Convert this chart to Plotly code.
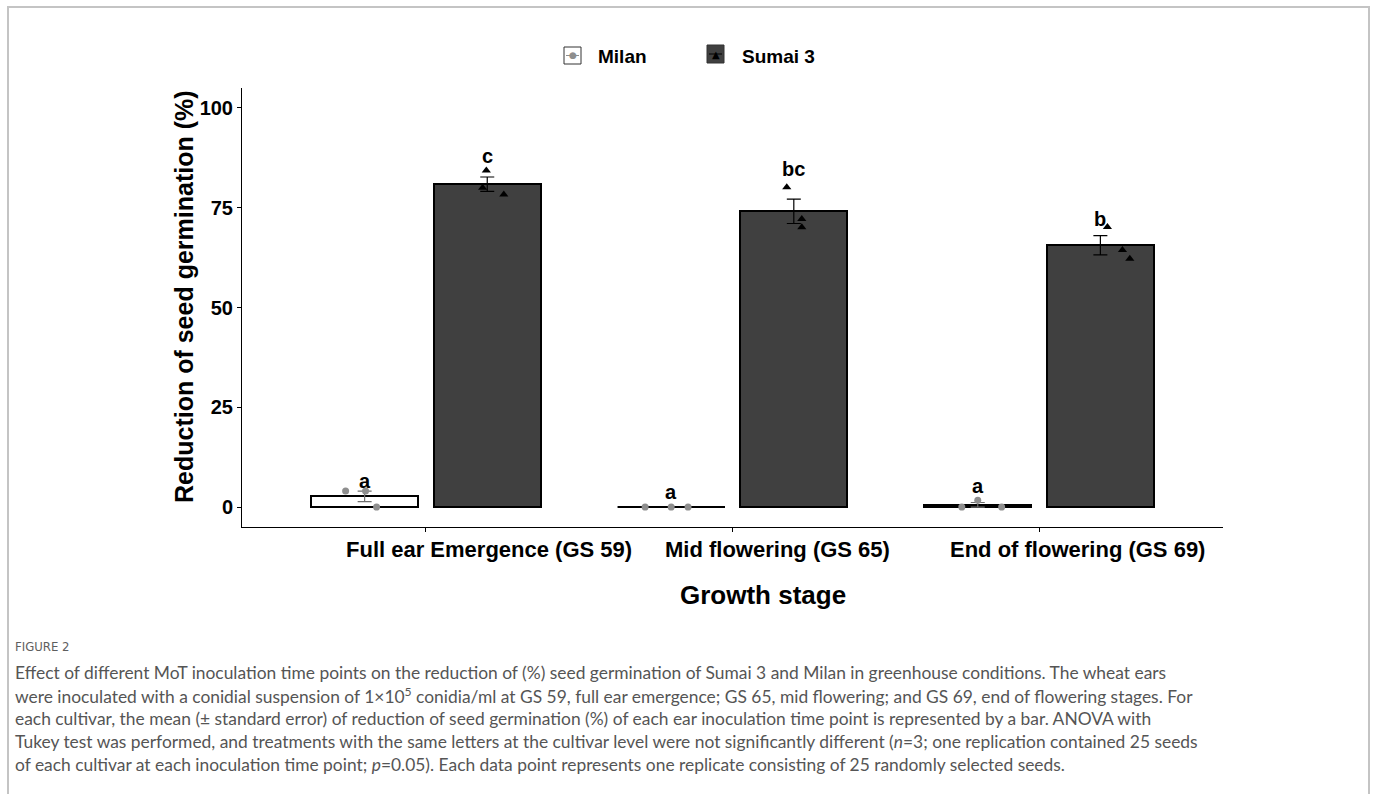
import plotly.graph_objects as go

# ---- data -------------------------------------------------------------
stages = ["Full ear Emergence (GS 59)", "Mid flowering (GS 65)", "End of flowering (GS 69)"]
cultivars = ["Milan", "Sumai 3"]

# mean reduction of seed germination (%) and standard error
milan_mean = [2.67, 0.0, 0.57]
milan_se = [1.33, 0.0, 0.57]
sumai_mean = [80.9, 74.1, 65.6]
sumai_se = [1.8, 3.05, 2.4]

# individual replicates (25 seeds each)
milan_reps = [[4.0, 4.0, 0.0], [0.0, 0.0, 0.0], [1.7, 0.0, 0.0]]
sumai_reps = [[84.3, 80.0, 78.3], [80.1, 72.2, 70.1], [70.2, 64.4, 62.2]]

# Tukey grouping letters
milan_letters = ["a", "a", "a"]
sumai_letters = ["c", "bc", "b"]

# ---- drawing parameters -------------------------------------------------
DODGE = 0.2
BAR_W = 0.35
milan_jitter = [[-0.062, 0.003, 0.039], [-0.085, 0.055, 0.0], [0.0, -0.052, 0.078]]
sumai_jitter = [[-0.003, -0.015, 0.054], [-0.023, 0.026, 0.026], [0.023, 0.072, 0.096]]
milan_letter_y = [6.5, 3.8, 5.3]
sumai_letter_y = [88.0, 84.7, 72.2]
stage_label_shift = [63, 45, 38]   # horizontal nudge of category labels (px)

W, H = 1377, 794
PL, PR, PT, PB = 242, 1223, 88, 527   # plot area in pixels


def px_x(px):
    return (px - PL) / (PR - PL)


def px_y(py):
    return (PB - py) / (PB - PT)


FONT = "Liberation Sans, Arial, sans-serif"
CAP_FONT = "Lato, Open Sans, sans-serif"

fig = go.Figure()

groups = [
    ("Milan", -DODGE, milan_mean, milan_se, milan_reps, milan_jitter, milan_letters, milan_letter_y,
     "white", "#6e6e6e", dict(symbol="circle", size=7, color="#8e8e8e")),
    ("Sumai 3", DODGE, sumai_mean, sumai_se, sumai_reps, sumai_jitter, sumai_letters, sumai_letter_y,
     "#404040", "black", dict(symbol="triangle-up", size=8, color="black")),
]

for name, off, mean, se, reps, jit, letters, ly, fill, ecol, mk in groups:
    xs = [i + off for i in range(len(stages))]
    fig.add_trace(go.Bar(
        x=xs, y=mean, width=BAR_W, name=name,
        marker=dict(color=fill, line=dict(color="black", width=2)),
        error_y=dict(type="data", array=se, color=ecol, thickness=1.2, width=7),
        showlegend=False,
    ))
    # zero-height bars still show their outline along the baseline
    for x, m in zip(xs, mean):
        if m == 0:
            fig.add_trace(go.Scatter(
                x=[x - BAR_W / 2, x + BAR_W / 2], y=[m, m], mode="lines",
                line=dict(color="black", width=2), showlegend=False, hoverinfo="skip"))
    px_, py_ = [], []
    for i, (rr, jj) in enumerate(zip(reps, jit)):
        for r, j in zip(rr, jj):
            px_.append(i + off + j)
            py_.append(r)
    fig.add_trace(go.Scatter(x=px_, y=py_, mode="markers", marker=mk, showlegend=False))
    for x, t, y in zip(xs, letters, ly):
        fig.add_annotation(x=x, y=y, text=t, showarrow=False, xanchor="center", yanchor="middle",
                           font=dict(family=FONT, size=20, color="black", weight="bold"))

# category labels below the axis
for i, (lab, sh) in enumerate(zip(stages, stage_label_shift)):
    fig.add_annotation(x=i, y=px_y(549), yref="paper", text=lab, showarrow=False,
                       xanchor="center", yanchor="middle", xshift=sh,
                       font=dict(family=FONT, size=22, color="black", weight="bold"))

# axis titles
fig.add_annotation(xref="paper", yref="paper", x=px_x(763), y=px_y(595), text="Growth stage",
                   showarrow=False, xanchor="center", yanchor="middle",
                   font=dict(family=FONT, size=26, color="black", weight="bold"))
fig.add_annotation(xref="paper", yref="paper", x=px_x(184), y=px_y(297),
                   text="Reduction of seed germination (%)", textangle=-90,
                   showarrow=False, xanchor="center", yanchor="middle",
                   font=dict(family=FONT, size=25, color="black", weight="bold"))

# ---- legend (drawn by hand: box + glyph + label) ----------------------------
legend_items = [
    (564, 581, 47, 64, "white", "#8e8e8e", "●", 9, 596, "Milan"),
    (707, 724, 45, 63, "#404040", "black", "▲", 10, 740, "Sumai 3"),
]
for x0, x1, y0, y1, fill, gcol, glyph, gsize, tx, label in legend_items:
    fig.add_shape(type="rect", xref="paper", yref="paper",
                  x0=px_x(x0), x1=px_x(x1), y0=px_y(y1), y1=px_y(y0),
                  fillcolor=fill, line=dict(color="#333333", width=1))
    fig.add_shape(type="line", xref="paper", yref="paper",
                  x0=px_x(x0 + 2), x1=px_x(x1 - 2), y0=px_y((y0 + y1) / 2), y1=px_y((y0 + y1) / 2),
                  line=dict(color=gcol, width=1))
    fig.add_annotation(xref="paper", yref="paper", x=px_x((x0 + x1) / 2), y=px_y((y0 + y1) / 2),
                       text=glyph, showarrow=False, xanchor="center", yanchor="middle",
                       font=dict(family="DejaVu Sans", size=gsize, color=gcol))
    fig.add_annotation(xref="paper", yref="paper", x=px_x(tx), y=px_y(56),
                       text=label, showarrow=False, xanchor="left", yanchor="middle",
                       font=dict(family=FONT, size=19, color="black", weight="bold"))

# ---- caption -------------------------------------------------------------
caption_lines = [
    "Effect of different MoT inoculation time points on the reduction of (%) seed germination of Sumai 3 and Milan in greenhouse conditions. The wheat ears",
    "were inoculated with a conidial suspension of 1×10<sup>5</sup> conidia/ml at GS 59, full ear emergence; GS 65, mid flowering; and GS 69, end of flowering stages. For",
    "each cultivar, the mean (± standard error) of reduction of seed germination (%) of each ear inoculation time point is represented by a bar. ANOVA with",
    "Tukey test was performed, and treatments with the same letters at the cultivar level were not significantly different (<i>n</i>=3; one replication contained 25 seeds",
    "of each cultivar at each inoculation time point; <i>p</i>=0.05). Each data point represents one replicate consisting of 25 randomly selected seeds.",
]
fig.add_annotation(xref="paper", yref="paper", x=px_x(13), y=px_y(646), text="FIGURE 2",
                   showarrow=False, xanchor="left", yanchor="middle",
                   font=dict(family="DejaVu Sans Condensed, DejaVu Sans, sans-serif", size=13,
                             color="#5e5e5e"))
for k, line in enumerate(caption_lines):
    fig.add_annotation(xref="paper", yref="paper", x=px_x(13), y=px_y(672 + 23 * k), text=line,
                       showarrow=False, xanchor="left", yanchor="middle",
                       font=dict(family=CAP_FONT, size=17.4, color="#555555"))

# page frame
fig.add_shape(type="rect", xref="paper", yref="paper", layer="below",
              x0=px_x(8), x1=px_x(1369), y0=px_y(810), y1=px_y(7),
              line=dict(color="#c4c4c4", width=2), fillcolor="rgba(0,0,0,0)")

fig.update_xaxes(range=[-0.6, 2.6], tickvals=list(range(len(stages))), ticktext=[""] * len(stages),
                 showline=True, linecolor="black", linewidth=1, ticks="outside", ticklen=4,
                 tickcolor="black", showgrid=False, zeroline=False)
fig.update_yaxes(range=[-5, 105], tickvals=[0, 25, 50, 75, 100],
                 showline=True, linecolor="black", linewidth=1, ticks="outside", ticklen=4,
                 tickcolor="black", showgrid=False, zeroline=False,
                 tickfont=dict(family=FONT, size=20, color="black", weight="bold"))

fig.update_layout(width=W, height=H, margin=dict(l=PL, r=W - PR, t=PT, b=H - PB, autoexpand=False),
                  plot_bgcolor="white", paper_bgcolor="white", showlegend=False,
                  bargap=0, barmode="overlay")

fig.write_html("out.html")
